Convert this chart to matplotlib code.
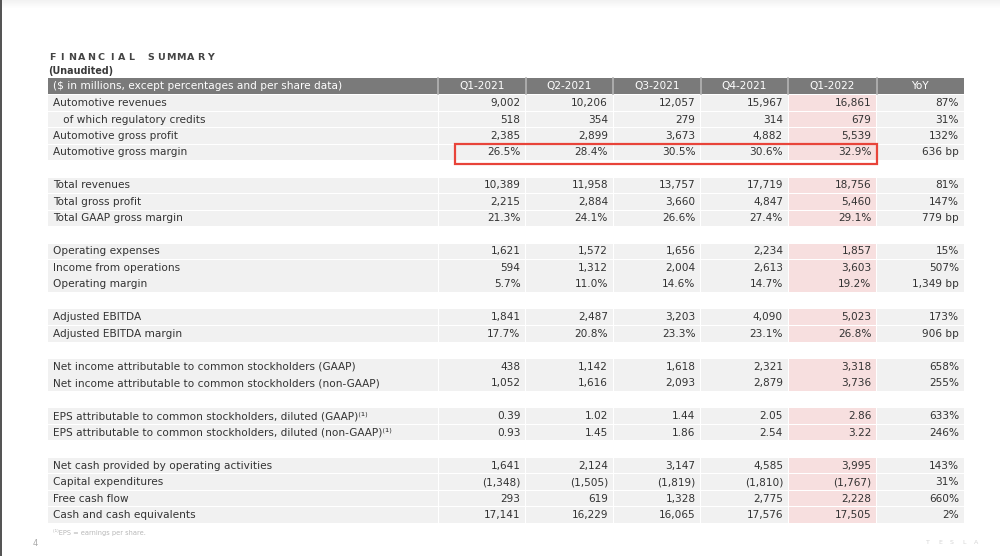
import matplotlib
matplotlib.use("Agg")
import matplotlib.pyplot as plt
from matplotlib.patches import Rectangle
import numpy as np

# ---------------- data ----------------
quarters = ["Q1-2021", "Q2-2021", "Q3-2021", "Q4-2021", "Q1-2022"]
header_label = "($ in millions, except percentages and per share data)"

row_labels = [
    "Automotive revenues", "   of which regulatory credits", "Automotive gross profit", "Automotive gross margin", None,
    "Total revenues", "Total gross profit", "Total GAAP gross margin", None,
    "Operating expenses", "Income from operations", "Operating margin", None,
    "Adjusted EBITDA", "Adjusted EBITDA margin", None,
    "Net income attributable to common stockholders (GAAP)",
    "Net income attributable to common stockholders (non-GAAP)", None,
    "EPS attributable to common stockholders, diluted (GAAP)\u207d\u00b9\u207e",
    "EPS attributable to common stockholders, diluted (non-GAAP)\u207d\u00b9\u207e", None,
    "Net cash provided by operating activities", "Capital expenditures", "Free cash flow",
    "Cash and cash equivalents",
]
# kind: n = integer millions, p = percent, e = EPS
row_kinds = ["n", "n", "n", "p", None, "n", "n", "p", None, "n", "n", "p", None,
             "n", "p", None, "n", "n", None, "e", "e", None, "n", "n", "n", "n"]

q1_2021 = [9002, 518, 2385, 26.5, None, 10389, 2215, 21.3, None, 1621, 594, 5.7, None,
           1841, 17.7, None, 438, 1052, None, 0.39, 0.93, None, 1641, -1348, 293, 17141]
q2_2021 = [10206, 354, 2899, 28.4, None, 11958, 2884, 24.1, None, 1572, 1312, 11.0, None,
           2487, 20.8, None, 1142, 1616, None, 1.02, 1.45, None, 2124, -1505, 619, 16229]
q3_2021 = [12057, 279, 3673, 30.5, None, 13757, 3660, 26.6, None, 1656, 2004, 14.6, None,
           3203, 23.3, None, 1618, 2093, None, 1.44, 1.86, None, 3147, -1819, 1328, 16065]
q4_2021 = [15967, 314, 4882, 30.6, None, 17719, 4847, 27.4, None, 2234, 2613, 14.7, None,
           4090, 23.1, None, 2321, 2879, None, 2.05, 2.54, None, 4585, -1810, 2775, 17576]
q1_2022 = [16861, 679, 5539, 32.9, None, 18756, 5460, 29.1, None, 1857, 3603, 19.2, None,
           5023, 26.8, None, 3318, 3736, None, 2.86, 3.22, None, 3995, -1767, 2228, 17505]
yoy_values = [87, 31, 132, 636, None, 81, 147, 779, None, 15, 507, 1349, None,
              173, 906, None, 658, 255, None, 633, 246, None, 143, 31, 660, 2]
yoy_units = ["%", "%", "%", " bp", None, "%", "%", " bp", None, "%", "%", " bp", None,
             "%", " bp", None, "%", "%", None, "%", "%", None, "%", "%", "%", "%"]

series = [q1_2021, q2_2021, q3_2021, q4_2021, q1_2022]


def fmt(v, kind):
    if kind == "n":
        s = f"{abs(v):,.0f}"
        return f"({s})" if v < 0 else s
    if kind == "p":
        return f"{v:.1f}%"
    if kind == "e":
        return f"{v:.2f}"
    return ""


# ---------------- layout ----------------
W, H = 1000, 556
fig = plt.figure(figsize=(W / 100, H / 100), dpi=100)
ax = fig.add_axes([0, 0, 1, 1])
ax.set_xlim(0, W)
ax.set_ylim(H, 0)
ax.axis("off")

FONT = "DejaVu Sans"
TXT = "#333333"
FS = 7.6

col_edges = [48, 438, 525.5, 613, 700.5, 788, 876.5, 964]
header_top, header_h = 78.3, 16.0
row_h = 16.48
first_row_top = 94.8

# top shadow + left border
for i in range(8):
    ax.add_patch(Rectangle((0, i), W, 1, color="#000000", alpha=0.05 * (1 - i / 8), lw=0))
ax.add_patch(Rectangle((0, 0), 2.2, H, color="#555555", lw=0))

# title (letter-spaced, fixed pitch)
title = "FINANCIAL SUMMARY"
for k, ch in enumerate(title):
    if ch != " ":
        ax.text(52 + k * 9.9, 57, ch, fontsize=6.8, fontweight="bold", color="#444444",
                va="center", ha="center", family=FONT)
ax.text(48, 70.5, "(Unaudited)", fontsize=6.9, fontweight="bold", color="#3a3a3a",
        va="center", ha="left", family=FONT)

# header row
ax.add_patch(Rectangle((col_edges[0], header_top), col_edges[-1] - col_edges[0], header_h,
                       color="#7a7a7a", lw=0))
for xe in col_edges[1:-1]:
    ax.plot([xe, xe], [header_top, header_top + header_h], color="#b4b4b4", lw=1.2)
ax.text(col_edges[0] + 5, header_top + header_h / 2, header_label, color="white",
        fontsize=FS, va="center", ha="left", family=FONT)
hdrs = quarters + ["YoY"]
for j, h in enumerate(hdrs):
    cx = (col_edges[j + 1] + col_edges[j + 2]) / 2
    ax.text(cx, header_top + header_h / 2, h, color="white", fontsize=FS,
            va="center", ha="center", family=FONT)

# body rows
for i, lab in enumerate(row_labels):
    if lab is None:
        continue
    top = first_row_top + i * row_h
    yc = top + row_h / 2
    for j in range(len(col_edges) - 1):
        x0, x1 = col_edges[j], col_edges[j + 1]
        c = "#f7dfdf" if j == 5 else "#f1f1f1"
        ax.add_patch(Rectangle((x0 + (0.5 if j else 0), top + 0.4),
                               x1 - x0 - (1.0 if j else 0.5), row_h - 0.8, color=c, lw=0))
    ax.text(col_edges[0] + 5, yc, lab, color=TXT, fontsize=FS, va="center",
            ha="left", family=FONT)
    for j, s in enumerate(series):
        ax.text(col_edges[j + 2] - 5, yc, fmt(s[i], row_kinds[i]), color=TXT,
                fontsize=FS, va="center", ha="right", family=FONT)
    ax.text(col_edges[-1] - 5, yc, f"{yoy_values[i]:,}{yoy_units[i]}", color=TXT,
            fontsize=FS, va="center", ha="right", family=FONT)

# red highlight box around Automotive gross margin
r = 3
top = first_row_top + r * row_h
ax.add_patch(Rectangle((455, top - 0.3), 877 - 455, 20.3, fill=False,
                       edgecolor="#e8443a", lw=1.6))

# footer
ax.text(53, 533, "\u207d\u00b9\u207eEPS = earnings per share.", fontsize=4.8,
        color="#b8b8b8", va="center", ha="left", family=FONT)
ax.text(35, 543, "4", fontsize=6, color="#aaaaaa", va="center", ha="center", family=FONT)
for k, ch in enumerate("TESLA"):
    ax.text(928 + k * 12, 543, ch, fontsize=4.5, color="#d5d5d5", va="center",
            ha="center", family=FONT)

fig.savefig("out.png", dpi=100, facecolor="white")
